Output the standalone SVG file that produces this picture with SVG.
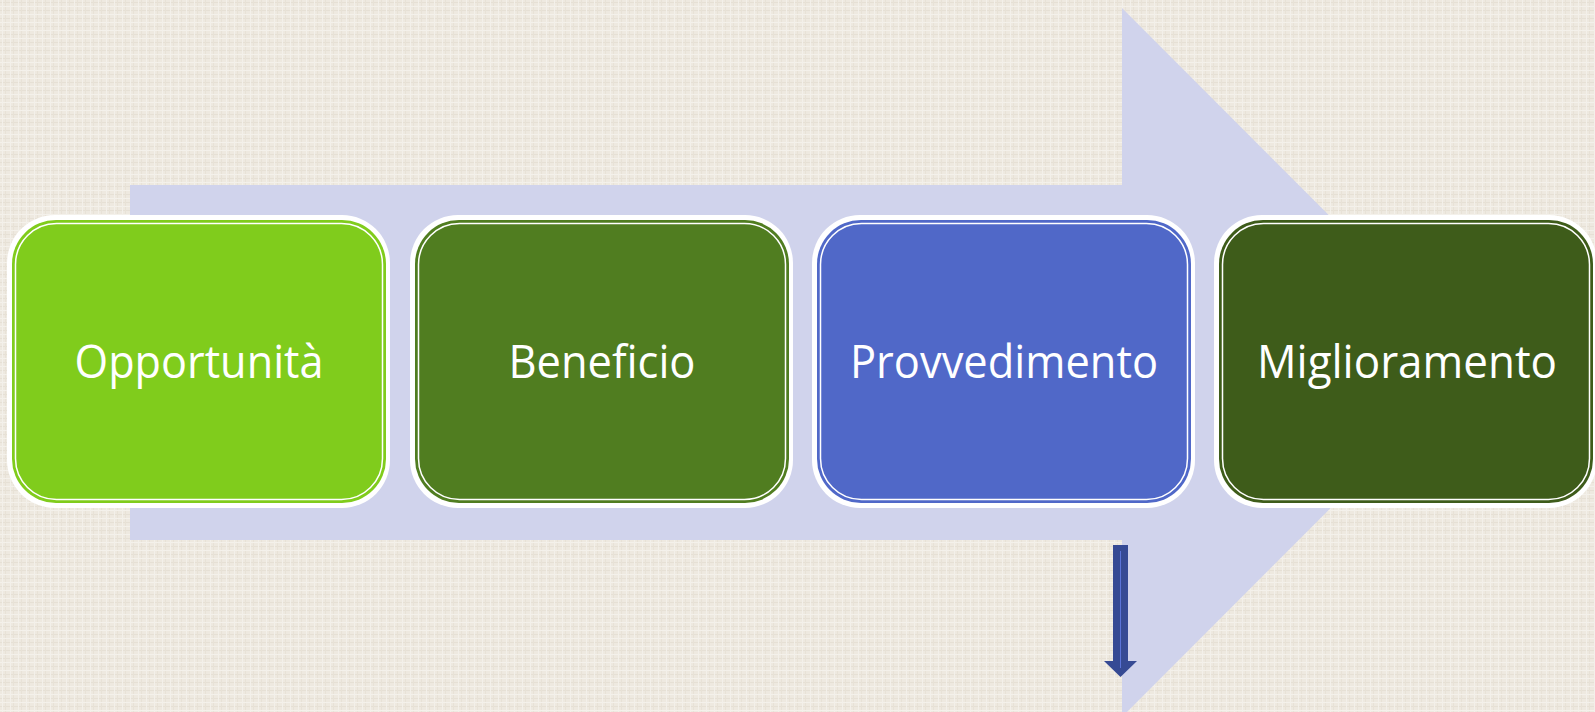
<svg xmlns="http://www.w3.org/2000/svg" width="1595" height="712" viewBox="0 0 1595 712">
  <defs>
    <pattern id="linen" width="8" height="8" patternUnits="userSpaceOnUse">
      <rect width="8" height="8" fill="#eee9e0"/>
      <rect x="0" y="2" width="8" height="1" fill="#e6e0d5"/>
      <rect x="5" y="0" width="1" height="8" fill="#e8e2d7"/>
      <rect x="0" y="6" width="8" height="1" fill="#f4f1eb"/>
      <rect x="2" y="0" width="1" height="8" fill="#f3f0ea"/>
    </pattern>
  </defs>
  <style>
    .outer { fill: #ffffff; }
    .inner { fill: none; stroke: #ffffff; stroke-width: 1.5; }
    .label { font-family: "Open Sans", "Liberation Sans", sans-serif; font-size: 46px; fill: #ffffff; text-anchor: middle; }
  </style>
  <rect width="1595" height="712" fill="url(#linen)"/>
  <g id="big-arrow">
    <polygon points="130,185 1122,185 1122,8 1476,362.5 1122,717 1122,540 130,540" fill="#d0d3ec"/>
  </g>
  <g id="node-opportunita">
    <rect class="outer" x="7" y="215" width="383" height="293" rx="48"/>
    <rect x="12" y="220" width="374" height="283" rx="44" fill="#80cc1c"/>
    <rect class="inner" x="15.5" y="223.5" width="367" height="276" rx="41"/>
    <text class="label" x="199" y="378" textLength="249" lengthAdjust="spacingAndGlyphs">Opportunità</text>
  </g>
  <g id="node-beneficio">
    <rect class="outer" x="410" y="215" width="383" height="293" rx="48"/>
    <rect x="415" y="220" width="374" height="283" rx="44" fill="#507d20"/>
    <rect class="inner" x="418.5" y="223.5" width="367" height="276" rx="41"/>
    <text class="label" x="602" y="378" textLength="187" lengthAdjust="spacingAndGlyphs">Beneficio</text>
  </g>
  <g id="node-provvedimento">
    <rect class="outer" x="812" y="215" width="383" height="293" rx="48"/>
    <rect x="817" y="220" width="374" height="283" rx="44" fill="#5068c8"/>
    <rect class="inner" x="820.5" y="223.5" width="367" height="276" rx="41"/>
    <text class="label" x="1004" y="378" textLength="308" lengthAdjust="spacingAndGlyphs">Provvedimento</text>
  </g>
  <g id="node-miglioramento">
    <rect class="outer" x="1214" y="215" width="383" height="293" rx="48"/>
    <rect x="1219" y="220" width="374" height="283" rx="44" fill="#3e5c1a"/>
    <rect class="inner" x="1222.5" y="223.5" width="367" height="276" rx="41"/>
    <text class="label" x="1407" y="378" textLength="300" lengthAdjust="spacingAndGlyphs">Miglioramento</text>
  </g>
  <g id="connectors">
    <polygon points="1113,545 1128,545 1128,661 1137,661 1120.5,677 1104,661 1113,661" fill="#364a94"/>
    <line x1="1120.5" y1="551" x2="1120.5" y2="668" stroke="#5a73d8" stroke-width="1"/>
  </g>
</svg>
